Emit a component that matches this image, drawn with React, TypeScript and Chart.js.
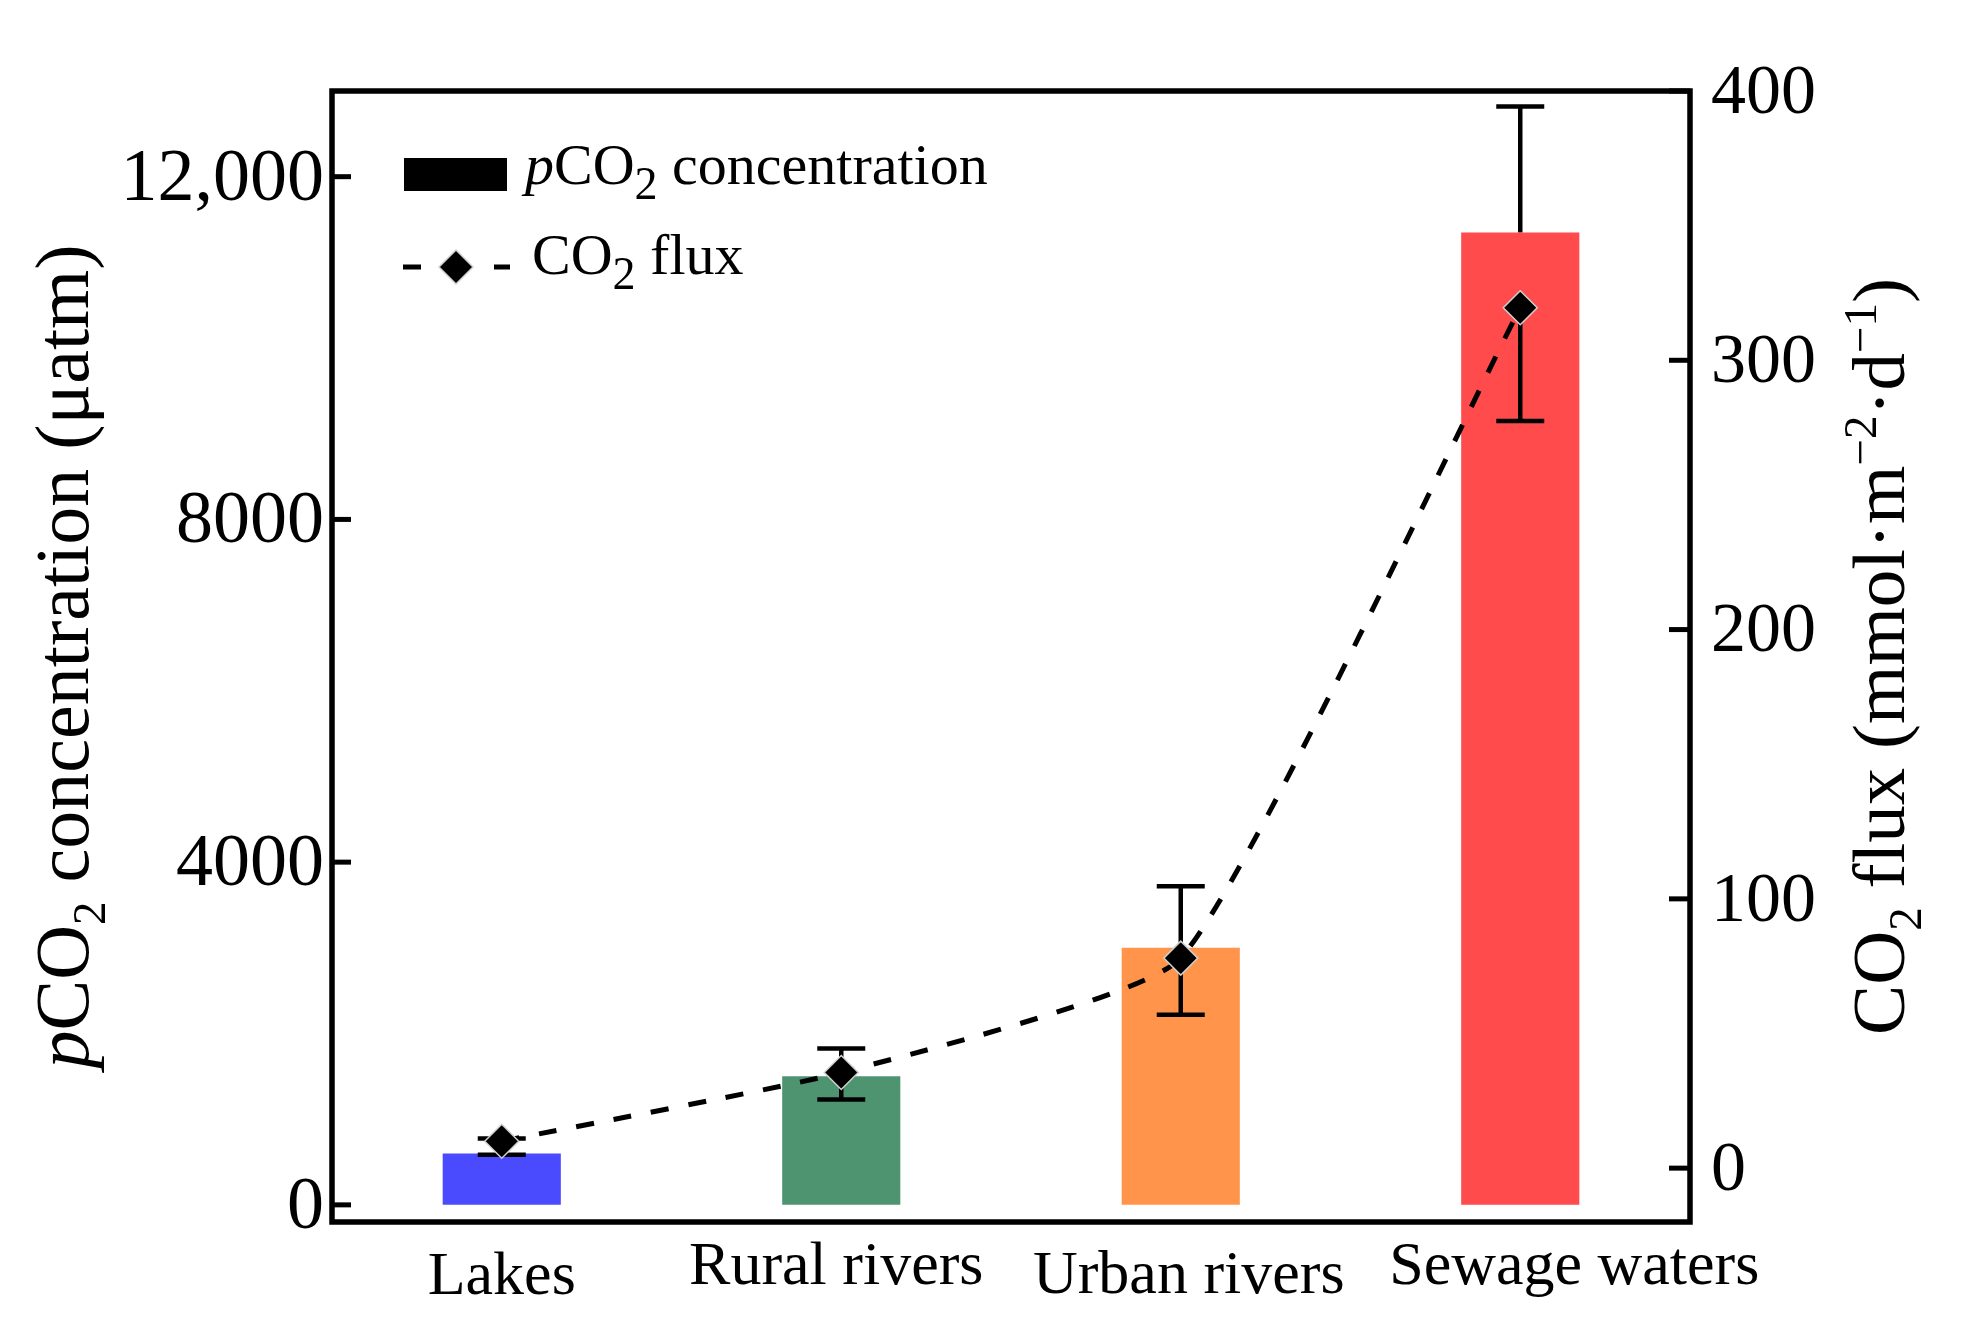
import React, { useEffect, useRef } from 'react';
import { Chart, registerables } from 'chart.js';

Chart.register(...registerables);

// ---------- data ----------
const CATEGORIES = ['Lakes', 'Rural rivers', 'Urban rivers', 'Sewage waters'];
const PCO2 = [600, 1500, 3000, 11350];
const PCO2_ERR = [175, 325, 720, 1470];
const FLUX = [10, 35.5, 78, 319.5];
const FLUX_ERR = [5, 10, 21, 42];
const BAR_COLORS = ['#4a4aff', '#4e9470', '#ff944a', '#ff4b4b'];
const LEFT_TICKS = [0, 4000, 8000, 12000];
const LEFT_TICK_LABELS = ['0', '4000', '8000', '12,000'];
const RIGHT_TICKS = [0, 100, 200, 300, 400];
const RIGHT_TICK_LABELS = ['0', '100', '200', '300', '400'];

// label placement tweaks (style, not data)
const X_LABEL_DX = [0, -5, 8, 54];
const X_LABEL_DY = [10, 0, 9, 0];

type Seg = { t: string; italic?: boolean; sub?: boolean; sup?: boolean };
const LEFT_TITLE: Seg[] = [{ t: 'p', italic: true }, { t: 'CO' }, { t: '2', sub: true }, { t: ' concentration (μatm)' }];
const RIGHT_TITLE: Seg[] = [
  { t: 'CO' }, { t: '2', sub: true }, { t: ' flux (mmol·m' }, { t: '−2', sup: true },
  { t: '·d' }, { t: '−1', sup: true }, { t: ')' },
];
const LEGEND_BAR: Seg[] = [{ t: 'p', italic: true }, { t: 'CO' }, { t: '2', sub: true }, { t: ' concentration' }];
const LEGEND_LINE: Seg[] = [{ t: 'CO' }, { t: '2', sub: true }, { t: ' flux' }];

const SERIF = '"Liberation Serif", "Times New Roman", serif';

function drawRich(
  ctx: CanvasRenderingContext2D,
  segs: Seg[],
  x: number,
  y: number,
  size: number,
  align: 'left' | 'center',
  rotate = 0,
  smallScale = 0.68,
  subOffset = 0.22,
) {
  ctx.save();
  ctx.translate(x, y);
  if (rotate) ctx.rotate(rotate);
  const fontFor = (s: Seg) =>
    `${s.italic ? 'italic ' : ''}${s.sub || s.sup ? Math.round(size * smallScale) : size}px ${SERIF}`;
  let total = 0;
  const widths = segs.map((s) => {
    ctx.font = fontFor(s);
    const w = ctx.measureText(s.t).width;
    total += w;
    return w;
  });
  let cx = align === 'center' ? -total / 2 : 0;
  ctx.textBaseline = 'alphabetic';
  ctx.textAlign = 'left';
  ctx.fillStyle = '#000';
  segs.forEach((s, i) => {
    ctx.font = fontFor(s);
    const dy = s.sub ? size * subOffset : s.sup ? -size * 0.38 : 0;
    ctx.fillText(s.t, cx, dy);
    cx += widths[i];
  });
  ctx.restore();
}

function diamond(ctx: CanvasRenderingContext2D, x: number, y: number, r: number) {
  ctx.beginPath();
  ctx.moveTo(x, y - r);
  ctx.lineTo(x + r, y);
  ctx.lineTo(x, y + r);
  ctx.lineTo(x - r, y);
  ctx.closePath();
  ctx.fillStyle = '#000';
  ctx.fill();
  ctx.strokeStyle = '#d0d0d0';
  ctx.lineWidth = 1.5;
  ctx.stroke();
}

const errorBarPlugin = {
  id: 'errorBars',
  afterDatasetDraw(chart: any, args: any) {
    if (args.index !== 0) return;
    const ctx: CanvasRenderingContext2D = chart.ctx;
    const xs = chart.scales.x;
    const ys = chart.scales.y;
    const y1s = chart.scales.y1;
    const seg = (a: number, b: number, c: number, d: number) => {
      ctx.beginPath();
      ctx.moveTo(a, b);
      ctx.lineTo(c, d);
      ctx.stroke();
    };
    ctx.save();
    ctx.strokeStyle = '#000';
    ctx.lineWidth = 4.5;
    ctx.lineCap = 'butt';
    CATEGORIES.forEach((_, i) => {
      const px = xs.getPixelForValue(i);
      const top = ys.getPixelForValue(PCO2[i]);
      const up = ys.getPixelForValue(PCO2[i] + PCO2_ERR[i]);
      seg(px, top, px, up);
      seg(px - 24, up, px + 24, up);
      const f = y1s.getPixelForValue(FLUX[i]);
      const lo = y1s.getPixelForValue(FLUX[i] - FLUX_ERR[i]);
      seg(px, f, px, lo);
      seg(px - 24, lo, px + 24, lo);
    });
    ctx.restore();
  },
};

const decorPlugin = {
  id: 'decor',
  afterDraw(chart: any) {
    const ctx: CanvasRenderingContext2D = chart.ctx;
    const { left, right, top, bottom } = chart.chartArea;
    const xs = chart.scales.x;
    const ys = chart.scales.y;
    const y1s = chart.scales.y1;
    ctx.save();
    // frame
    ctx.strokeStyle = '#000';
    ctx.lineWidth = 5.5;
    ctx.lineJoin = 'miter';
    ctx.beginPath();
    ctx.moveTo(left, top);
    ctx.lineTo(right, top);
    ctx.lineTo(right, bottom);
    ctx.lineTo(left, bottom);
    ctx.closePath();
    ctx.stroke();
    // inward ticks
    ctx.lineWidth = 5;
    LEFT_TICKS.forEach((v) => {
      const py = ys.getPixelForValue(v);
      ctx.beginPath();
      ctx.moveTo(left, py);
      ctx.lineTo(left + 19, py);
      ctx.stroke();
    });
    RIGHT_TICKS.forEach((v) => {
      const py = y1s.getPixelForValue(v);
      ctx.beginPath();
      ctx.moveTo(right, py);
      ctx.lineTo(right - 21, py);
      ctx.stroke();
    });
    // tick labels
    ctx.fillStyle = '#000';
    ctx.textBaseline = 'alphabetic';
    ctx.font = `74px ${SERIF}`;
    ctx.textAlign = 'right';
    LEFT_TICKS.forEach((v, i) => {
      const py = ys.getPixelForValue(v);
      ctx.fillText(LEFT_TICK_LABELS[i], left - 8, py + 74 * 0.31);
    });
    ctx.font = `70px ${SERIF}`;
    ctx.textAlign = 'left';
    RIGHT_TICKS.forEach((v, i) => {
      const py = y1s.getPixelForValue(v);
      ctx.fillText(RIGHT_TICK_LABELS[i], right + 21, py + 70 * 0.31);
    });
    // category labels
    ctx.font = `62px ${SERIF}`;
    ctx.textAlign = 'center';
    CATEGORIES.forEach((c, i) => {
      const px = xs.getPixelForValue(i);
      ctx.fillText(c, px + X_LABEL_DX[i], bottom + 62 + X_LABEL_DY[i]);
    });
    ctx.restore();

    // axis titles
    const midY = (top + bottom) / 2;
    drawRich(ctx, LEFT_TITLE, 88, midY, 76, 'center', -Math.PI / 2, 0.62);
    drawRich(ctx, RIGHT_TITLE, 1904, midY, 75, 'center', -Math.PI / 2, 0.62);

    // legend
    ctx.save();
    ctx.fillStyle = '#000';
    ctx.fillRect(left + 72, top + 67, 103, 33);
    ctx.strokeStyle = '#000';
    ctx.lineWidth = 5;
    const ly = top + 176;
    ctx.beginPath();
    ctx.moveTo(left + 71, ly);
    ctx.lineTo(left + 89, ly);
    ctx.moveTo(left + 162, ly);
    ctx.lineTo(left + 178, ly);
    ctx.stroke();
    diamond(ctx, left + 124, ly, 17);
    ctx.restore();
    drawRich(ctx, LEGEND_BAR, left + 193, top + 93, 58, 'left', 0, 0.8, 0.26);
    drawRich(ctx, LEGEND_LINE, left + 200, top + 183, 58, 'left', 0, 0.8, 0.26);
  },
};

export default function App() {
  const canvasRef = useRef<HTMLCanvasElement | null>(null);

  useEffect(() => {
    document.body.style.margin = '0';
    document.body.style.overflow = 'hidden';
    const canvas = canvasRef.current;
    if (!canvas) return;
    const chart = new Chart(canvas, {
      type: 'bar',
      data: {
        labels: CATEGORIES,
        datasets: [
          {
            type: 'bar',
            label: 'pCO2 concentration',
            data: PCO2,
            backgroundColor: BAR_COLORS,
            borderWidth: 0,
            yAxisID: 'y',
            barPercentage: 0.348,
            categoryPercentage: 1,
            order: 2,
          } as any,
          {
            type: 'line',
            label: 'CO2 flux',
            data: FLUX,
            yAxisID: 'y1',
            borderColor: '#000',
            borderWidth: 5,
            borderDash: [18, 20],
            borderCapStyle: 'butt',
            tension: 0.15,
            fill: false,
            pointStyle: 'rectRot',
            pointRadius: 17,
            pointHoverRadius: 17,
            pointBackgroundColor: '#000',
            pointBorderColor: '#d0d0d0',
            pointBorderWidth: 1.5,
            order: 1,
            clip: false,
          } as any,
        ],
      },
      options: {
        responsive: false,
        animation: false,
        devicePixelRatio: 1,
        layout: { padding: { top: 91, left: 0, right: 0, bottom: 0 } },
        plugins: {
          legend: { display: false },
          tooltip: { enabled: false },
        },
        events: [],
        scales: {
          x: {
            type: 'category',
            offset: true,
            grid: { display: false, drawTicks: false },
            border: { display: false },
            ticks: { display: false },
            afterFit: (s: any) => {
              s.height = 106;
            },
          },
          y: {
            type: 'linear',
            position: 'left',
            min: -200,
            max: 13000,
            grid: { display: false, drawTicks: false },
            border: { display: false },
            ticks: { display: false },
            afterBuildTicks: (s: any) => {
              s.ticks = LEFT_TICKS.map((v) => ({ value: v }));
            },
            afterFit: (s: any) => {
              s.width = 332;
            },
          },
          y1: {
            type: 'linear',
            position: 'right',
            min: -20,
            max: 400,
            grid: { display: false, drawTicks: false },
            border: { display: false },
            ticks: { display: false },
            afterBuildTicks: (s: any) => {
              s.ticks = RIGHT_TICKS.map((v) => ({ value: v }));
            },
            afterFit: (s: any) => {
              s.width = 277;
            },
          },
        },
      } as any,
      plugins: [errorBarPlugin, decorPlugin],
    });
    return () => chart.destroy();
  }, []);

  return (
    <div style={{ width: 1967, height: 1328, background: '#fff' }}>
      <canvas ref={canvasRef} width={1967} height={1328} style={{ display: 'block', width: 1967, height: 1328 }} />
    </div>
  );
}
